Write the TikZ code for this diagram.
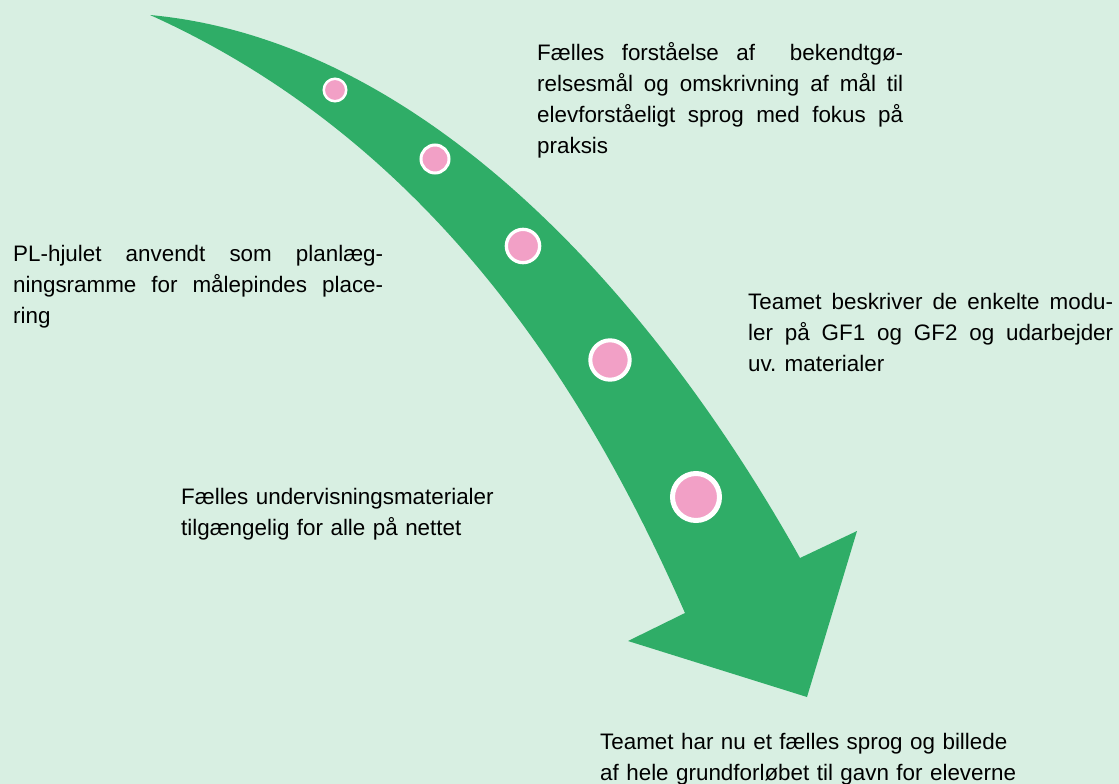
\documentclass[tikz,border=0pt]{standalone}
\usepackage{fontspec}
\setmainfont{Liberation Sans}
\definecolor{bggreen}{RGB}{216,239,226}
\definecolor{arrowgreen}{RGB}{47,173,103}
\definecolor{dotpink}{RGB}{242,160,198}
\newcommand{\notefont}{\fontsize{22.4}{31.2}\selectfont\hyphenpenalty=10000}

\begin{document}
\begin{tikzpicture}[x=1pt, y=-1pt,
  note/.style={inner sep=0pt, anchor=base west, font=\notefont, align=justify},
  dot/.style={circle, fill=dotpink, draw=white, inner sep=0pt}]
\fill[bggreen] (0,0) rectangle (1119,784);
\useasboundingbox (0,0) rectangle (1119,784);

% Arrow
\fill[arrowgreen] (150,15) .. controls (420,40) and (650,290) .. (800,558)
  -- (857,531) -- (807,697) -- (628,641) -- (685,613)
  .. controls (600,420) and (450,150) .. (150,15) -- cycle;

% Milestones
\foreach \n/\x/\y/\rad/\bw in {1/335/90/11.25/2.5, 2/435/159/14/3, 3/523/246/16.65/3.3, 4/610/360/19.7/4, 5/696/497/23.5/5}
  \node[dot, minimum size={2*\rad*1pt}, line width={\bw*1pt}] (m\n) at (\x,\y) {};

% Texts
\node[note, text width=366pt] (goals) at (537,60) {Fælles forståelse af \ bekendtgø-\linebreak relsesmål og omskrivning af mål til\linebreak elevforståeligt sprog med fokus på\linebreak praksis};
\node[note, text width=370pt] (wheel) at (13,261) {PL-hjulet anvendt som planlæg-\linebreak ningsramme for målepindes place-\linebreak ring};
\node[note, text width=365pt] (modules) at (748,309) {Teamet beskriver de enkelte modu-\linebreak ler på GF1 og GF2 og udarbejder\linebreak uv. materialer};
\node[note, text width=420pt, align=left] (material) at (181,504) {Fælles undervisningsmaterialer\\tilgængelig for alle på nettet};
\node[note, text width=420pt, align=left] (result) at (600,749) {Teamet har nu et fælles sprog og billede\\af hele grundforløbet til gavn for eleverne};
\end{tikzpicture}
\end{document}
